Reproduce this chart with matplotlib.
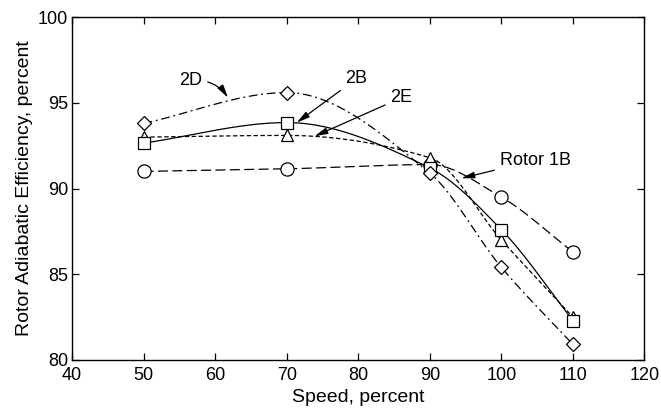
import numpy as np
import matplotlib
matplotlib.use("Agg")
import matplotlib.pyplot as plt

plt.rcParams["font.family"] = ["Liberation Sans", "DejaVu Sans"]

# ------------------------------------------------------------
# Data
# ------------------------------------------------------------
speed = [50, 70, 90, 100, 110]

eff_1b = [91.0, 91.15, 91.4, 89.5, 86.3]   # circles, long dash
eff_2b = [92.65, 93.85, 91.2, 87.6, 82.3]  # squares, solid
eff_2e = [93.0, 93.1, 91.8, 87.0, 82.5]    # triangles, short dash
eff_2d = [93.8, 95.6, 90.9, 85.4, 80.9]    # diamonds, dash-dot

x_ticks = [40, 50, 60, 70, 80, 90, 100, 110, 120]
y_ticks = [80, 85, 90, 95, 100]


def smooth(x, y, n=200):
    """Monotone cubic (PCHIP) through the points, only for drawing the curve."""
    x = np.asarray(x, float)
    y = np.asarray(y, float)
    h = np.diff(x)
    d = np.diff(y) / h
    k = len(x)
    m = np.zeros(k)
    for i in range(1, k - 1):
        if d[i - 1] * d[i] <= 0:
            m[i] = 0.0
        else:
            w1 = 2 * h[i] + h[i - 1]
            w2 = h[i] + 2 * h[i - 1]
            m[i] = (w1 + w2) / (w1 / d[i - 1] + w2 / d[i])
    m[0] = d[0]
    m[-1] = d[-1]
    xs = np.linspace(x[0], x[-1], n)
    idx = np.clip(np.searchsorted(x, xs) - 1, 0, k - 2)
    hh = h[idx]
    t = (xs - x[idx]) / hh
    h00 = 2 * t ** 3 - 3 * t ** 2 + 1
    h10 = t ** 3 - 2 * t ** 2 + t
    h01 = -2 * t ** 3 + 3 * t ** 2
    h11 = t ** 3 - t ** 2
    ys = h00 * y[idx] + h10 * hh * m[idx] + h01 * y[idx + 1] + h11 * hh * m[idx + 1]
    return xs, ys


fig = plt.figure(figsize=(6.61, 4.19), dpi=100)
ax = fig.add_axes([0.109, 0.141, 0.866, 0.818])

series = [
    (eff_1b, "o", 9.5, (0, (8, 3.5))),
    (eff_2e, "^", 9, (0, (3.5, 2))),
    (eff_2b, "s", 8.5, "-"),
    (eff_2d, "D", 7.5, (0, (7, 3, 1.5, 3))),
]

for vals, mk, ms, ls in series:
    xs, ys = smooth(speed, vals)
    ax.plot(xs, ys, color="black", lw=0.9, linestyle=ls, zorder=2)
    ax.plot(speed, vals, linestyle="none", marker=mk, ms=ms,
            mfc="white", mec="black", mew=0.9, zorder=3)

arrow = dict(arrowstyle="-|>,head_length=0.6,head_width=0.15",
             color="black", lw=0.9, shrinkA=2, shrinkB=0)

ax.annotate("2D", xy=(61.8, 95.3), xytext=(56.6, 96.3), fontsize=13,
            ha="center", va="center",
            arrowprops=dict(arrow, connectionstyle="arc3,rad=-0.3"))
ax.annotate("2B", xy=(71.4, 93.85), xytext=(78.2, 96.4), fontsize=13,
            ha="left", va="center", arrowprops=arrow)
ax.annotate("2E", xy=(73.9, 93.05), xytext=(84.5, 95.3), fontsize=13,
            ha="left", va="center", arrowprops=arrow)
ax.annotate("Rotor 1B", xy=(94.4, 90.6), xytext=(99.8, 91.65), fontsize=13,
            ha="left", va="center", arrowprops=arrow)

ax.set_xlim(40, 120)
ax.set_ylim(80, 100)
ax.set_xticks(x_ticks)
ax.set_yticks(y_ticks)
ax.tick_params(direction="in", length=5, width=0.9, top=True, right=True,
               labelsize=13)
ax.tick_params(axis="x", pad=5)
ax.tick_params(axis="y", pad=3)
for s in ax.spines.values():
    s.set_linewidth(1.0)

ax.set_xlabel("Speed, percent", fontsize=14, labelpad=4)
ax.set_ylabel("Rotor Adiabatic Efficiency, percent", fontsize=14, labelpad=3)

fig.savefig("out.png", dpi=100)
plt.close(fig)
